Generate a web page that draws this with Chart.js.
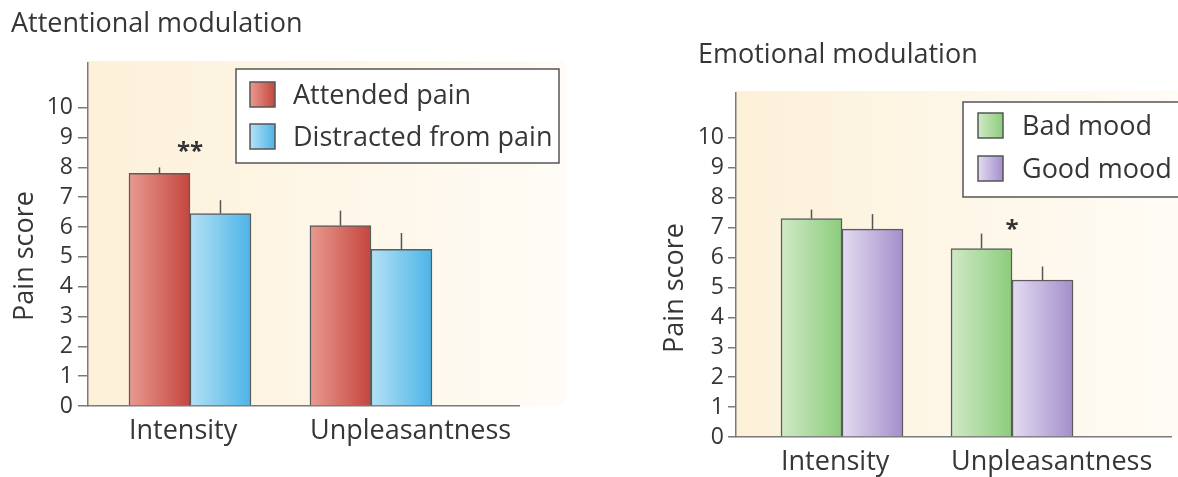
<!DOCTYPE html>
<html>
<head>
<meta charset="utf-8">
<title>Attentional and emotional modulation of pain</title>
<script src="https://cdn.jsdelivr.net/npm/chart.js@4.4.1/dist/chart.umd.min.js"></script>
<style>
  html, body { margin: 0; padding: 0; background: #fff; }
  #wrap { position: relative; width: 1178px; height: 477px; overflow: hidden; }
  .panel { position: absolute; top: 0; height: 477px; }
  #left { left: 0; width: 600px; }
  #right { left: 600px; width: 578px; }
</style>
</head>
<body>
<div id="wrap">
  <div class="panel" id="left"><canvas id="attentionChart" width="600" height="477"></canvas></div>
  <div class="panel" id="right"><canvas id="emotionChart" width="578" height="477"></canvas></div>
</div>
<script>
// Categorias e ticks comuns aos dois painéis
const categories = ['Intensity', 'Unpleasantness'];
const yTicks = [0, 1, 2, 3, 4, 5, 6, 7, 8, 9, 10];

// Painel esquerdo: Attentional modulation
const attendedPain = [7.8, 6.05];
const attendedPainErr = [0.2, 0.5];
const distractedPain = [6.45, 5.25];
const distractedPainErr = [0.45, 0.55];
const attentionStars = ['**', ''];
const attentionStarLevel = [8.7, null];

// Painel direito: Emotional modulation
const badMood = [7.3, 6.3];
const badMoodErr = [0.3, 0.5];
const goodMood = [6.95, 5.25];
const goodMoodErr = [0.5, 0.45];
const emotionStars = ['', '*'];
const emotionStarLevel = [null, 7.1];

const FONT = "'Open Sans', sans-serif";
const TEXT = '#363636';
const AXIS = '#7a7a7a';

Chart.defaults.font.family = FONT;
Chart.defaults.color = TEXT;

// Plugin: fundo creme, gradiente das barras, barras de erro, asteriscos, legenda e títulos
const panelDecor = {
    id: 'panelDecor',
    beforeDraw(chart, args, o) {
        const { ctx, chartArea: a } = chart;
        ctx.save();
        const g = ctx.createLinearGradient(a.left, 0, a.left + o.bgWidth, 0);
        g.addColorStop(0, '#fcf0d8');
        g.addColorStop(1, '#fffcf6');
        ctx.fillStyle = g;
        ctx.fillRect(a.left, a.top - 2, o.bgWidth, a.bottom - a.top + 2);
        ctx.restore();
    },
    beforeDatasetsDraw(chart) {
        chart.data.datasets.forEach((ds, di) => {
            chart.getDatasetMeta(di).data.forEach(bar => {
                const half = bar.width / 2;
                const g = chart.ctx.createLinearGradient(bar.x - half, 0, bar.x + half, 0);
                g.addColorStop(0, ds.shade[0]);
                g.addColorStop(1, ds.shade[1]);
                bar.options.backgroundColor = g;
            });
        });
    },
    afterDatasetsDraw(chart, args, o) {
        const { ctx } = chart;
        const xs = chart.scales.x, ys = chart.scales.y;
        ctx.save();
        // barras de erro (só a parte de cima)
        ctx.strokeStyle = '#555';
        ctx.lineWidth = 1.5;
        chart.data.datasets.forEach((ds, di) => {
            chart.getDatasetMeta(di).data.forEach((bar, i) => {
                const top = ys.getPixelForValue(ds.data[i].y + ds.errors[i]);
                ctx.beginPath();
                ctx.moveTo(bar.x, bar.y);
                ctx.lineTo(bar.x, top);
                ctx.stroke();
            });
        });
        // asteriscos de significância
        ctx.fillStyle = '#333';
        ctx.font = 'bold 24px ' + FONT;
        ctx.textAlign = 'center';
        ctx.textBaseline = 'middle';
        o.stars.forEach((s, i) => {
            if (!s) return;
            ctx.fillText(s, xs.getPixelForValue(i), ys.getPixelForValue(o.starLevels[i]) + 6);
        });
        ctx.restore();
    },
    afterDraw(chart, args, o) {
        const { ctx } = chart;
        ctx.save();
        // título do painel
        ctx.fillStyle = TEXT;
        ctx.font = '27px ' + FONT;
        ctx.textAlign = 'left';
        ctx.textBaseline = 'alphabetic';
        ctx.fillText(o.title, o.titleX, o.titleY);
        // título do eixo y
        ctx.save();
        ctx.translate(o.axisTitleX, o.axisTitleY);
        ctx.rotate(-Math.PI / 2);
        ctx.textAlign = 'center';
        ctx.fillText(o.axisTitle, 0, 0);
        ctx.restore();
        // legenda
        const L = o.legend;
        ctx.strokeStyle = '#555';
        ctx.lineWidth = 1.5;
        ctx.fillStyle = '#fff';
        ctx.fillRect(L.x, L.y, L.w, L.h);
        ctx.strokeRect(L.x, L.y, L.w, L.h);
        chart.data.datasets.forEach((ds, di) => {
            const sy = L.rows[di];
            const g = ctx.createLinearGradient(L.boxX, 0, L.boxX + L.box, 0);
            g.addColorStop(0, ds.shade[0]);
            g.addColorStop(1, ds.shade[1]);
            ctx.fillStyle = g;
            ctx.fillRect(L.boxX, sy, L.box, L.box);
            ctx.strokeStyle = '#555';
            ctx.strokeRect(L.boxX, sy, L.box, L.box);
            ctx.fillStyle = TEXT;
            ctx.textAlign = 'left';
            ctx.fillText(ds.label, L.textX, sy + L.box - 3);
        });
        ctx.restore();
    }
};

function makePanel(canvasId, p) {
    const datasets = p.series.map(s => ({
        label: s.label,
        data: s.values.map((v, i) => ({ x: i, y: v })),
        errors: s.errors,
        shade: s.shade,
        backgroundColor: () => s.shade[1],
        borderColor: '#5c5c5c',
        borderWidth: 1.5,
        barThickness: p.barThickness
    }));

    return new Chart(document.getElementById(canvasId), {
        type: 'bar',
        data: { datasets: datasets },
        options: {
            responsive: false,
            animation: false,
            layout: { padding: { left: 0, top: p.top, right: p.right, bottom: 0 } },
            plugins: {
                legend: { display: false },
                tooltip: { enabled: false },
                panelDecor: p.decor
            },
            scales: {
                x: {
                    type: 'linear',
                    offset: false,
                    min: p.xMin,
                    max: p.xMax,
                    afterBuildTicks: s => { s.ticks = categories.map((c, i) => ({ value: i })); },
                    afterFit: s => { s.height = p.xHeight; s.paddingLeft = 0; s.paddingRight = 0; },
                    grid: { display: false, drawTicks: false },
                    border: { display: true, color: AXIS, width: 1.5 },
                    ticks: {
                        callback: v => categories[v],
                        align: 'start',
                        labelOffset: -p.barThickness,
                        padding: p.xPad,
                        autoSkip: false,
                        maxRotation: 0,
                        font: { size: 27 },
                        color: TEXT
                    }
                },
                y: {
                    min: 0,
                    max: 11.5,
                    afterBuildTicks: s => { s.ticks = yTicks.map(v => ({ value: v })); },
                    afterFit: s => { s.width = p.yWidth; },
                    grid: { display: true, drawOnChartArea: false, drawTicks: true, tickLength: p.tickLen, color: AXIS, lineWidth: 1.5 },
                    border: { display: true, color: AXIS, width: 1.5 },
                    ticks: { padding: p.yPad, font: { size: 23 }, color: TEXT }
                }
            }
        },
        plugins: [panelDecor]
    });
}

makePanel('attentionChart', {
    series: [
        { label: 'Attended pain', values: attendedPain, errors: attendedPainErr, shade: ['#e99a90', '#c4463e'] },
        { label: 'Distracted from pain', values: distractedPain, errors: distractedPainErr, shade: ['#b5e1f5', '#4cb4e7'] }
    ],
    barThickness: 61,
    xMin: -0.5635, xMax: 1.818,
    top: 63, right: 81, xHeight: 71, yWidth: 88,
    tickLen: 10, yPad: 5, xPad: 9,
    decor: {
        bgWidth: 477,
        stars: attentionStars, starLevels: attentionStarLevel,
        title: 'Attentional modulation', titleX: 11, titleY: 32,
        axisTitle: 'Pain score', axisTitleX: 33, axisTitleY: 256,
        legend: { x: 236, y: 69, w: 323, h: 94, boxX: 250, box: 25, rows: [82, 124], textX: 293 }
    }
});

makePanel('emotionChart', {
    series: [
        { label: 'Bad mood', values: badMood, errors: badMoodErr, shade: ['#d0e9c6', '#8ccc7c'] },
        { label: 'Good mood', values: goodMood, errors: goodMoodErr, shade: ['#e3dcf1', '#a48ecb'] }
    ],
    barThickness: 61,
    xMin: -0.6235, xMax: 1.935,
    top: 93, right: 7, xHeight: 40, yWidth: 136,
    tickLen: 8, yPad: 4, xPad: 9,
    decor: {
        bgWidth: 442,
        stars: emotionStars, starLevels: emotionStarLevel,
        title: 'Emotional modulation', titleX: 98, titleY: 63,
        axisTitle: 'Pain score', axisTitleX: 83, axisTitleY: 288,
        legend: { x: 363, y: 102, w: 230, h: 95, boxX: 378, box: 25, rows: [113, 156], textX: 422 }
    }
});
</script>
</body>
</html>
